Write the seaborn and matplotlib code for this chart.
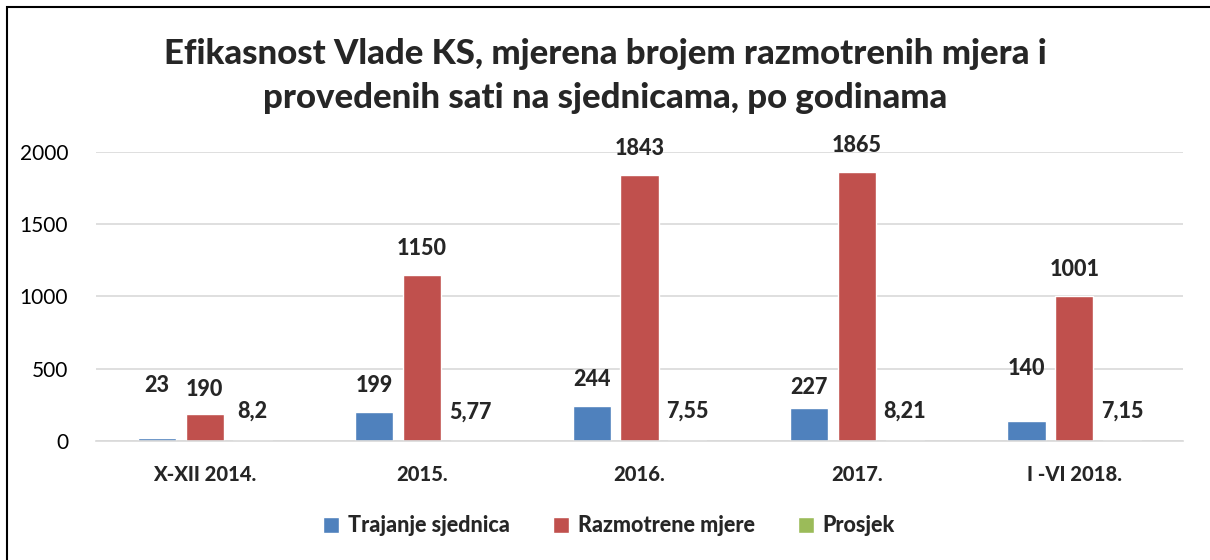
import matplotlib
matplotlib.use("Agg")
import matplotlib.pyplot as plt
import seaborn as sns
import pandas as pd
from matplotlib.patches import Rectangle

categories = ["X-XII 2014.", "2015.", "2016.", "2017.", "I -VI 2018."]
series_names = ["Trajanje sjednica", "Razmotrene mjere", "Prosjek"]
trajanje = [23, 199, 244, 227, 140]
razmotrene = [190, 1150, 1843, 1865, 1001]
prosjek = [8.2, 5.77, 7.55, 8.21, 7.15]
prosjek_labels = ["8,2", "5,77", "7,55", "8,21", "7,15"]
colors = ["#4F81BD", "#C0504D", "#9BBB59"]

# label paddings (pixels) per series / bar, as placed in the original
label_pads = [[42, 16, 16, 10, 42], [14, 16, 16, 16, 16], [18, 18, 18, 18, 18]]

rows = []
for s, vals in zip(series_names, [trajanje, razmotrene, prosjek]):
    for c, v in zip(categories, vals):
        rows.append({"cat": c, "series": s, "value": v})
df = pd.DataFrame(rows)

sns.set_theme(style="white")
plt.rcParams["font.family"] = ["Lato", "DejaVu Sans"]

fig = plt.figure(figsize=(12.1, 5.6), dpi=100)
ax = fig.add_axes([96/1210, 1-441/560, (1183-96)/1210, (441-152)/560])

sns.barplot(data=df, x="cat", y="value", hue="series", palette=colors,
            ax=ax, width=0.66, gap=0.2, saturation=1, legend=True)

ax.set_ylim(0, 2000)
ax.set_yticks([0, 500, 1000, 1500, 2000])
ax.yaxis.grid(True, color="#D9D9D9", linewidth=1.2)
ax.set_axisbelow(True)
for sp in ["top", "right", "left"]:
    ax.spines[sp].set_visible(False)
ax.spines["bottom"].set_color("#D9D9D9")
ax.spines["bottom"].set_linewidth(1.2)
ax.tick_params(axis="both", length=0)
ax.tick_params(axis="y", labelsize=15, pad=20, labelcolor="#000000")
ax.tick_params(axis="x", labelsize=14.5, pad=17)
for t in ax.get_xticklabels():
    t.set_fontweight("black")
ax.set_xlabel("")
ax.set_ylabel("")

label_sets = [[str(v) for v in trajanje], [str(v) for v in razmotrene], prosjek_labels]
for cont, labs, pads in zip(ax.containers, label_sets, label_pads):
    for bar, lab, pad in zip(cont, labs, pads):
        ax.annotate(lab, (bar.get_x() + bar.get_width() / 2, bar.get_height()),
                    xytext=(0, pad), textcoords="offset pixels",
                    ha="center", va="bottom", fontsize=15.5, fontweight="black")

leg = ax.legend(loc="upper center", bbox_to_anchor=(0.472, -0.19), ncol=3,
                frameon=False, fontsize=15.5, handlelength=0.75, handleheight=0.75,
                columnspacing=2.0, handletextpad=0.4)
for t in leg.get_texts():
    t.set_fontweight("black")

fig.text(0.5, 1-76/560, "Efikasnost Vlade KS, mjerena brojem razmotrenih mjera i\nprovedenih sati na sjednicama, po godinama",
         ha="center", va="center", fontsize=25, fontweight="black", linespacing=1.5)

fig.patches.append(Rectangle((7/1210, -0.1), 1.2, 1-7/560+0.1, transform=fig.transFigure,
                             fill=False, edgecolor="black", linewidth=1.5))

fig.savefig("out.png", dpi=100)
